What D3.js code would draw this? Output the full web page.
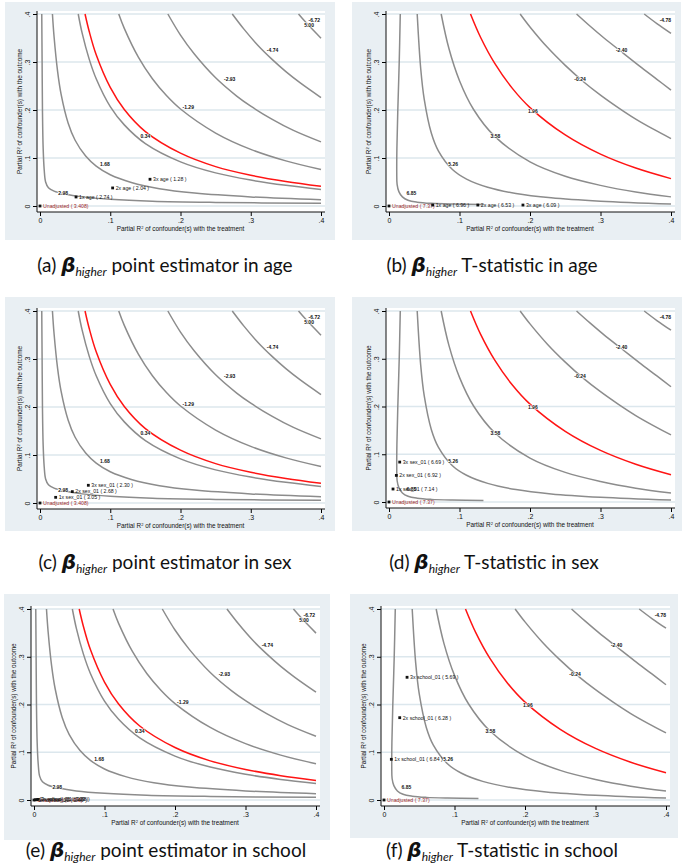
<!DOCTYPE html>
<html>
<head>
<meta charset="utf-8">
<script src="https://cdn.jsdelivr.net/npm/d3@7"></script>
<style>
  body { margin: 0; background: #fff; }
  svg { display: block; }
</style>
</head>
<body>
<div id="fig"></div>
<script>
// axis ticks (same on both axes)
const tickValues = [0, 0.1, 0.2, 0.3, 0.4];
const tickLabels = ["0", ".1", ".2", ".3", ".4"];

// contour lines, point estimator panels
const estC298 = [[0.0025,0.4],[0.003,0.3],[0.0035,0.2],[0.0045,0.12],[0.006,0.075],[0.008,0.05],[0.012,0.038],[0.02,0.031],[0.035,0.025],[0.06,0.019],[0.1,0.014],[0.16,0.01],[0.25,0.0075],[0.4,0.0055]];
const estC168 = [[0.0177,0.4],[0.02,0.353],[0.025,0.281],[0.03,0.233],[0.04,0.173],[0.05,0.137],[0.065,0.104],[0.08,0.083],[0.1,0.065],[0.13,0.049],[0.17,0.036],[0.22,0.027],[0.3,0.019],[0.4,0.013]];
const estC034 = [[0.0544,0.4],[0.06,0.36],[0.07,0.306],[0.08,0.265],[0.1,0.207],[0.12,0.169],[0.15,0.13],[0.2,0.092],[0.25,0.069],[0.3,0.054],[0.35,0.043],[0.4,0.0345]];
const estC000 = [[0.0641,0.4],[0.07,0.364],[0.08,0.315],[0.1,0.247],[0.12,0.201],[0.15,0.155],[0.2,0.11],[0.25,0.082],[0.3,0.064],[0.35,0.051],[0.4,0.041]];
const estCm129 = [[0.1121,0.4],[0.12,0.37],[0.14,0.31],[0.16,0.265],[0.18,0.23],[0.2,0.202],[0.25,0.152],[0.3,0.118],[0.35,0.094],[0.4,0.076]];
const estCm293 = [[0.182,0.4],[0.2,0.356],[0.22,0.316],[0.25,0.267],[0.28,0.229],[0.3,0.208],[0.33,0.181],[0.36,0.158],[0.4,0.1335]];
const estCm474 = [[0.2737,0.4],[0.29,0.369],[0.31,0.335],[0.33,0.306],[0.35,0.28],[0.37,0.257],[0.4,0.226]];
const estCm672 = [[0.368,0.4],[0.38,0.38],[0.4,0.3495]];
const estCurves = [estC298, estC168, estC034, estC000, estCm129, estCm293, estCm474, estCm672];
const estRed = 3;
const estLabels = [["2.98",0.033,0.027],["1.68",0.0925,0.086],["0.34",0.15,0.145],["-1.29",0.211,0.205],["-2.93",0.27,0.264],["-4.74",0.331,0.325],["5.00",0.383,0.377],["-6.72",0.3905,0.386]];

// contour lines, t-statistic panels
const tC685 = [[0.016,0.4],[0.0145,0.3],[0.0125,0.2],[0.0112,0.12],[0.011,0.07],[0.0115,0.045],[0.014,0.03],[0.019,0.019],[0.027,0.012],[0.04,0.008],[0.06,0.0055],[0.09,0.004],[0.134,0.003]];
const tC526 = [[0.04,0.4],[0.045,0.286],[0.05,0.222],[0.06,0.152],[0.07,0.115],[0.09,0.076],[0.11,0.056],[0.14,0.039],[0.18,0.026],[0.23,0.017],[0.3,0.01],[0.4,0.004]];
const tC358 = [[0.074,0.4],[0.085,0.328],[0.1,0.261],[0.12,0.201],[0.15,0.145],[0.2,0.092],[0.25,0.062],[0.3,0.043],[0.35,0.029],[0.4,0.019]];
const tC196 = [[0.1156,0.4],[0.13,0.351],[0.15,0.297],[0.175,0.245],[0.2,0.205],[0.25,0.148],[0.3,0.108],[0.35,0.079],[0.4,0.057]];
const tCm024 = [[0.186,0.4],[0.2,0.373],[0.225,0.33],[0.25,0.293],[0.275,0.26],[0.3,0.231],[0.325,0.205],[0.35,0.181],[0.375,0.16],[0.4,0.1405]];
const tCm240 = [[0.266,0.4],[0.285,0.375],[0.305,0.35],[0.33,0.321],[0.355,0.292],[0.38,0.264],[0.4,0.2414]];
const tCm478 = [[0.362,0.4],[0.38,0.38],[0.4,0.3597]];
const tCurves = [tC685, tC526, tC358, tC196, tCm024, tCm240, tCm478];
const tRed = 3;
const tLabels = [["6.85",0.0318,0.0257],["5.26",0.091,0.086],["3.58",0.151,0.145],["1.96",0.204,0.198],["-0.24",0.271,0.264],["-2.40",0.33,0.325],["-4.78",0.392,0.386]];

// bound points: label, R2 with treatment, R2 with outcome
const boundsA = [["Unadjusted ( 3.408)",0,0],["1x age ( 2.74 )",0.0513,0.0188],["2x age ( 2.04 )",0.1034,0.0376],["3x age ( 1.28 )",0.1566,0.0557]];
const boundsB = [["Unadjusted ( 7.37)",0,0],["1x age ( 6.96 )",0.062,0.002],["2x age ( 6.53 )",0.126,0.002],["3x age ( 6.09 )",0.19,0.002]];
const boundsC = [["Unadjusted ( 3.408)",0,0],["1x sex_01 ( 3.05 )",0.0223,0.0118],["2x sex_01 ( 2.68 )",0.046,0.0237],["3x sex_01 ( 2.30 )",0.0688,0.0369]];
const boundsD = [["Unadjusted ( 7.37)",0,0],["1x sex_01 ( 7.14 )",0.0057,0.0272],["2x sex_01 ( 6.92 )",0.0104,0.0557],["3x sex_01 ( 6.69 )",0.0152,0.0836]];
const boundsE = [["Unadjusted ( 3.408)",0,0],["1x school_01 ( 3.40 )",0.002,0.0004],["2x school_01 ( 3.39 )",0.004,0.0008],["3x school_01 ( 3.38 )",0.006,0.0012]];
const boundsF = [["Unadjusted ( 7.37)",0,0],["1x school_01 ( 6.84 )",0.0104,0.0852],["2x school_01 ( 6.28 )",0.0223,0.1724],["3x school_01 ( 5.69 )",0.0327,0.257]];

const captionText = ["point estimator in age", "T-statistic in age", "point estimator in sex",
  "T-statistic in sex", "point estimator in school", "T-statistic in school"];

const WIDTH = 685;
const HEIGHT = 865;
const BG = "#e9eff3";
const GRID = "#dce7ed";
const GRAY = "#8c8c8c";
const RED = "#ff1414";

const panels = [
  {key: "a", box: [5, 2, 330, 238], xr: [40, 321], yr: [206, 14], type: "est", bounds: boundsA, cx: 165, cy: 272},
  {key: "b", box: [352, 2, 329, 238], xr: [389, 671], yr: [206, 14], type: "t", bounds: boundsB, cx: 492, cy: 272},
  {key: "c", box: [5, 297, 330, 234], xr: [40, 321], yr: [503, 311], type: "est", bounds: boundsC, cx: 165, cy: 569},
  {key: "d", box: [352, 297, 330, 234], xr: [389, 671], yr: [502, 311], type: "t", bounds: boundsD, cx: 494, cy: 569},
  {key: "e", box: [4, 594, 326, 246], xr: [34, 316], yr: [800, 609], type: "est", bounds: boundsE, cx: 166, cy: 857},
  {key: "f", box: [350, 594, 328, 244], xr: [384, 666], yr: [800, 609], type: "t", bounds: boundsF, cx: 502, cy: 857}
];

const svg = d3.select("#fig").append("svg")
  .attr("width", WIDTH)
  .attr("height", HEIGHT)
  .style("font-family", "'Liberation Sans', Arial, sans-serif");

function drawPanel(p, i) {
  const g = svg.append("g").attr("id", "panel-" + p.key);
  const x = d3.scaleLinear().domain([0, 0.4]).range(p.xr);
  const y = d3.scaleLinear().domain([0, 0.4]).range(p.yr);
  const left = p.xr[0] - 3, right = p.xr[1] + 4;
  const top = p.yr[1] - 3, bottom = p.yr[0] + 6;

  // outer background + white plot region
  g.append("rect")
    .attr("x", p.box[0]).attr("y", p.box[1])
    .attr("width", p.box[2]).attr("height", p.box[3])
    .attr("fill", BG);
  g.append("rect")
    .attr("x", left).attr("y", top)
    .attr("width", right - left).attr("height", bottom - top)
    .attr("fill", "#fff");

  // horizontal grid
  g.selectAll(".grid")
    .data(tickValues)
    .join("line")
    .attr("class", "grid")
    .attr("x1", left).attr("x2", right)
    .attr("y1", d => y(d)).attr("y2", d => y(d))
    .attr("stroke", GRID)
    .attr("stroke-width", 1.3);

  // contours
  const curves = p.type === "est" ? estCurves : tCurves;
  const redIdx = p.type === "est" ? estRed : tRed;
  const line = d3.line()
    .x(d => x(d[0]))
    .y(d => y(d[1]))
    .curve(d3.curveCatmullRom.alpha(0.5));
  g.selectAll(".contour")
    .data(curves)
    .join("path")
    .attr("class", "contour")
    .attr("d", line)
    .attr("fill", "none")
    .attr("stroke", (d, j) => j === redIdx ? RED : GRAY)
    .attr("stroke-width", 1.5);

  // contour labels
  const labels = p.type === "est" ? estLabels : tLabels;
  g.selectAll(".clab")
    .data(labels)
    .join("text")
    .attr("class", "clab")
    .attr("x", d => x(d[1]))
    .attr("y", d => y(d[2]))
    .attr("dy", "0.35em")
    .attr("text-anchor", "middle")
    .attr("font-size", 5)
    .attr("font-weight", "bold")
    .attr("fill", "#111")
    .attr("stroke", "#fff")
    .attr("stroke-width", 1.2)
    .attr("paint-order", "stroke")
    .text(d => d[0]);

  // bound points
  const b = g.selectAll(".bound")
    .data(p.bounds)
    .join("g")
    .attr("class", "bound")
    .attr("transform", d => `translate(${x(d[1])},${y(d[2])})`);
  b.append("rect")
    .attr("x", -1.4).attr("y", -1.4)
    .attr("width", 2.8).attr("height", 2.8)
    .attr("fill", "#111");
  b.append("text")
    .attr("x", 3)
    .attr("dy", "0.35em")
    .attr("font-size", 5.2)
    .attr("fill", (d, j) => j === 0 ? "#a0282a" : "#111")
    .text(d => d[0]);

  // axes
  const ax = g.append("g")
    .attr("transform", `translate(0,${bottom})`)
    .call(d3.axisBottom(x).tickValues(tickValues).tickFormat((d, j) => tickLabels[j]).tickSize(4).tickPadding(2));
  ax.select(".domain").remove();
  ax.selectAll("text").attr("font-size", 7).attr("fill", "#111");

  const ay = g.append("g")
    .attr("transform", `translate(${left},0)`)
    .call(d3.axisLeft(y).tickValues(tickValues).tickFormat((d, j) => tickLabels[j]).tickSize(4));
  ay.select(".domain").remove();
  ay.selectAll("text")
    .attr("font-size", 7).attr("fill", "#111")
    .attr("transform", "rotate(-90)")
    .attr("x", 0).attr("y", -7).attr("dy", 0)
    .style("text-anchor", "middle");

  g.append("line")
    .attr("x1", left).attr("x2", right)
    .attr("y1", bottom).attr("y2", bottom)
    .attr("stroke", "#111").attr("stroke-width", 1);
  g.append("line")
    .attr("x1", left).attr("x2", left)
    .attr("y1", top).attr("y2", bottom)
    .attr("stroke", "#111").attr("stroke-width", 1);

  // axis titles
  const xt = g.append("text")
    .attr("x", (p.xr[0] + p.xr[1]) / 2)
    .attr("y", bottom + 19)
    .attr("text-anchor", "middle")
    .attr("font-size", 6.4)
    .attr("fill", "#111");
  xt.append("tspan").text("Partial R");
  xt.append("tspan").attr("font-size", 4).attr("dy", -2.5).text("2");
  xt.append("tspan").attr("dy", 2.5).text(" of confounder(s) with the treatment");

  const yt = g.append("text")
    .attr("transform", `translate(${left - 15},${(top + bottom) / 2}) rotate(-90)`)
    .attr("text-anchor", "middle")
    .attr("font-size", 6.4)
    .attr("fill", "#111");
  yt.append("tspan").text("Partial R");
  yt.append("tspan").attr("font-size", 4).attr("dy", -2.5).text("2");
  yt.append("tspan").attr("dy", 2.5).text(" of confounder(s) with the outcome");

  // caption
  const cap = svg.append("text")
    .attr("x", p.cx).attr("y", p.cy)
    .attr("text-anchor", "middle")
    .attr("font-family", "Lato, 'Open Sans', sans-serif")
    .attr("font-size", 19)
    .attr("fill", "#111");
  cap.append("tspan").text(`(${p.key}) `);
  cap.append("tspan")
    .attr("font-family", "'DejaVu Sans', sans-serif")
    .attr("font-style", "italic").attr("font-weight", "bold")
    .attr("font-size", 20)
    .text("β");
  cap.append("tspan")
    .attr("font-style", "italic").attr("font-size", 12).attr("dy", 4)
    .text("higher");
  cap.append("tspan").attr("dy", -4).text((i % 2 ? "  " : " ") + captionText[i]);
}

panels.forEach(drawPanel);
</script>
</body>
</html>
